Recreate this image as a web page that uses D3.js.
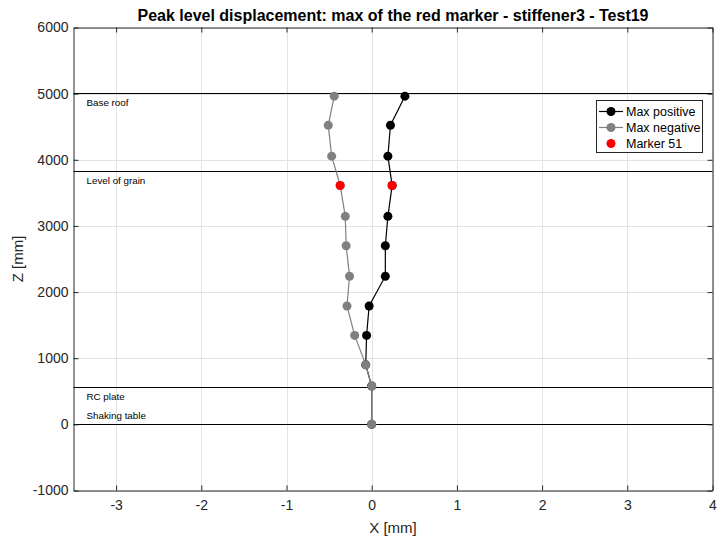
<!DOCTYPE html>
<html><head><meta charset="utf-8">
<script src="https://cdn.jsdelivr.net/npm/d3@7"></script>
<style>body{margin:0;background:#fff}svg{font-family:"Liberation Sans",Arial,sans-serif}</style>
</head><body><svg id="c" width="717" height="541"></svg>
<script>
const heights = [0, 580, 900, 1345, 1790, 2240, 2700, 3145, 3612, 4055, 4522, 4962];
const maxPositive = [0, 0, -0.07, -0.06, -0.03, 0.16, 0.16, 0.19, 0.24, 0.19, 0.22, 0.39];
const maxNegative = [0, 0, -0.07, -0.20, -0.29, -0.26, -0.30, -0.31, -0.37, -0.47, -0.51, -0.44];
const markerIndex = 8;
const levelNames = ["Base roof", "Level of grain", "RC plate", "Shaking table"];
const levelZ = [5010, 3830, 560, 0];
const xTicks = [-3, -2, -1, 0, 1, 2, 3, 4];
const yTicks = [-1000, 0, 1000, 2000, 3000, 4000, 5000, 6000];
const legendLabels = ["Max positive", "Max negative", "Marker 51"];

const svg = d3.select("#c");
const L = 73.5, R = 712.5, T = 27.5, B = 490.5;
const x = d3.scaleLinear().domain([-3.5, 4]).range([L, R]);
const y = d3.scaleLinear().domain([-1000, 6000]).range([B, T]);
const ax = "#262626";
const fmt = d => (d < 0 ? "-" : "") + Math.abs(d);
const py = v => Math.round(y(v)) + 0.5;

// grid
svg.append("g").selectAll("line").data(xTicks).join("line")
  .attr("x1", d => Math.round(x(d)) + 0.5).attr("x2", d => Math.round(x(d)) + 0.5).attr("y1", T).attr("y2", B)
  .attr("stroke", "#e3e3e3").attr("stroke-width", 1);
svg.append("g").selectAll("line").data(yTicks).join("line")
  .attr("y1", py).attr("y2", py).attr("x1", L).attr("x2", R)
  .attr("stroke", "#e3e3e3").attr("stroke-width", 1);

// level lines
svg.append("g").selectAll("line").data(levelZ).join("line")
  .attr("x1", L).attr("x2", R).attr("y1", py).attr("y2", py)
  .attr("stroke", "#000").attr("stroke-width", 1);
svg.append("g").selectAll("text").data(levelNames).join("text")
  .attr("x", L + 13).attr("y", (d, i) => i === 3 ? y(levelZ[i]) - 5 : y(levelZ[i]) + 13)
  .attr("font-size", 9.8).attr("fill", "#000").text(d => d);

// axes
const xAxB = d3.axisBottom(x).tickValues(xTicks).tickSize(-5).tickPadding(10).tickSizeOuter(0).tickFormat(fmt);
const xAxT = d3.axisTop(x).tickValues(xTicks).tickSize(-5).tickFormat("").tickSizeOuter(0);
const yAxL = d3.axisLeft(y).tickValues(yTicks).tickSize(-5).tickPadding(5).tickSizeOuter(0).tickFormat(fmt);
const yAxR = d3.axisRight(y).tickValues(yTicks).tickSize(-5).tickFormat("").tickSizeOuter(0);
function style(g) {
  g.selectAll("path").attr("stroke", ax);
  g.selectAll("line").attr("stroke", ax);
  g.selectAll("text").attr("fill", ax).attr("font-size", 14).attr("font-family", "Liberation Sans, Arial, sans-serif");
}
svg.append("g").attr("transform", `translate(0,${B})`).call(xAxB).call(style);
svg.append("g").attr("transform", `translate(0,${T})`).call(xAxT).call(style);
svg.append("g").attr("transform", `translate(${L},0)`).call(yAxL).call(style);
svg.append("g").attr("transform", `translate(${R},0)`).call(yAxR).call(style);

// series
const line = d3.line().x(d => x(d[0])).y(d => y(d[1]));
const pos = maxPositive.map((v, i) => [v, heights[i]]);
const neg = maxNegative.map((v, i) => [v, heights[i]]);
function series(data, color) {
  svg.append("path").attr("d", line(data)).attr("fill", "none").attr("stroke", color).attr("stroke-width", 1.2);
  svg.append("g").selectAll("circle").data(data).join("circle")
    .attr("cx", d => x(d[0])).attr("cy", d => y(d[1])).attr("r", 4.5).attr("fill", color);
}
series(pos, "#000");
series(neg, "#808080");
svg.append("g").selectAll("circle").data([pos[markerIndex], neg[markerIndex]]).join("circle")
  .attr("cx", d => x(d[0])).attr("cy", d => y(d[1])).attr("r", 4.5).attr("fill", "#ff0000");

// title and labels
svg.append("text").attr("x", (L + R) / 2).attr("y", 20.5).attr("text-anchor", "middle")
  .attr("font-size", 16).attr("font-weight", "bold").attr("fill", "#000")
  .text("Peak level displacement: max of the red marker - stiffener3 - Test19");
svg.append("text").attr("x", (L + R) / 2).attr("y", 533).attr("text-anchor", "middle")
  .attr("font-size", 15).attr("fill", ax).text("X [mm]");
svg.append("text").attr("transform", `translate(23,${(T + B) / 2}) rotate(-90)`).attr("text-anchor", "middle")
  .attr("font-size", 15).attr("fill", ax).text("Z [mm]");

// legend
const lg = svg.append("g");
lg.append("rect").attr("x", 596.5).attr("y", 100.5).attr("width", 106).attr("height", 52)
  .attr("fill", "#fff").attr("stroke", ax).attr("stroke-width", 1);
const lColors = ["#000", "#808080", "#ff0000"];
legendLabels.forEach((t, i) => {
  const yy = 111.5 + i * 16;
  if (i < 2) lg.append("line").attr("x1", 599).attr("x2", 623).attr("y1", yy).attr("y2", yy)
    .attr("stroke", lColors[i]).attr("stroke-width", 1.2);
  lg.append("circle").attr("cx", 611).attr("cy", yy).attr("r", 4.5).attr("fill", lColors[i]);
  lg.append("text").attr("x", 626).attr("y", yy + 4.5).attr("font-size", 12.5).attr("fill", "#000").text(t);
});
</script></body></html>
